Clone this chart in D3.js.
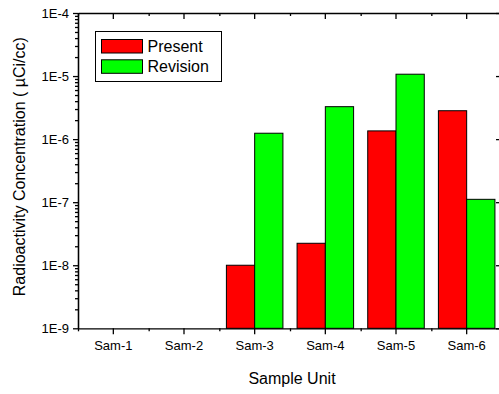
<!DOCTYPE html>
<html>
<head>
<meta charset="utf-8">
<script src="https://cdn.jsdelivr.net/npm/d3@7"></script>
<style>
  body { margin: 0; background: #fff; }
  svg { display: block; font-family: Arial, "Liberation Sans", sans-serif; }
</style>
</head>
<body>
<svg id="chart" width="499" height="394"></svg>
<script>
const categories = ["Sam-1", "Sam-2", "Sam-3", "Sam-4", "Sam-5", "Sam-6"];
const seriesNames = ["Present", "Revision"];
const present = [null, null, 1.0e-8, 2.23e-8, 1.35e-6, 2.82e-6];
const revision = [null, null, 1.24e-6, 3.27e-6, 1.07e-5, 1.11e-7];
const yTickValues = [1e-9, 1e-8, 1e-7, 1e-6, 1e-5, 1e-4];
const yTickLabels = ["1E-9", "1E-8", "1E-7", "1E-6", "1E-5", "1E-4"];
const colors = ["#ff0000", "#00ff00"];

const svg = d3.select("#chart");
const plotLeft = 78, plotRight = 502, plotTop = 13, plotBottom = 328.3;

const x = d3.scaleBand().domain(categories).range([plotLeft, plotRight])
  .paddingInner(0.2).paddingOuter(0.1);
const step = x.step();
const x1 = d3.scaleBand().domain(seriesNames).range([0, x.bandwidth()]);
const y = d3.scaleLog().domain([1e-9, 1e-4]).range([plotBottom, plotTop]);

// bars
const rows = categories.map((c, i) => ({ cat: c, vals: [present[i], revision[i]] }));
const groups = svg.append("g").selectAll("g").data(rows).join("g")
  .attr("transform", d => `translate(${x(d.cat)},0)`);
groups.selectAll("rect")
  .data(d => d.vals.map((v, k) => ({ name: seriesNames[k], v, k })).filter(d => d.v != null))
  .join("rect")
  .attr("x", d => x1(d.name))
  .attr("y", d => y(d.v))
  .attr("width", x1.bandwidth())
  .attr("height", d => plotBottom - y(d.v))
  .attr("fill", d => colors[d.k])
  .attr("stroke", "#000")
  .attr("stroke-width", 1);

// minor log ticks
const minors = [];
for (let e = -9; e < -4; e++) for (let m = 2; m <= 9; m++) minors.push(m * Math.pow(10, e));
const bounds = d3.range(categories.length + 1).map(i => plotLeft + i * step);
const xb = d3.scaleLinear().domain([plotLeft, plotRight]).range([plotLeft, plotRight]);

function styleAxis(g) {
  g.selectAll(".domain").attr("stroke", "#000").attr("stroke-width", 1.3);
  g.selectAll(".tick line").attr("stroke", "#000").attr("stroke-width", 1.3);
}
function styleText(g) {
  g.selectAll("text").attr("font-size", 13).attr("fill", "#000")
    .attr("font-family", "Arial, 'Liberation Sans', sans-serif");
}

// left axis
svg.append("g").attr("transform", `translate(${plotLeft},0)`)
  .call(d3.axisLeft(y).tickValues(minors).tickSize(3).tickSizeOuter(0).tickFormat(""))
  .call(styleAxis);
svg.append("g").attr("transform", `translate(${plotLeft},0)`)
  .call(d3.axisLeft(y).tickValues(yTickValues).tickSize(5).tickSizeOuter(0)
    .tickPadding(4).tickFormat((d, i) => yTickLabels[i]))
  .call(styleAxis)
  .call(styleText);

// right axis (ticks inward)
svg.append("g").attr("transform", `translate(${plotRight},0)`)
  .call(d3.axisLeft(y).tickValues(minors).tickSize(3).tickSizeOuter(0).tickFormat(""))
  .call(styleAxis);
svg.append("g").attr("transform", `translate(${plotRight},0)`)
  .call(d3.axisLeft(y).tickValues(yTickValues).tickSize(6).tickSizeOuter(0).tickFormat(""))
  .call(styleAxis);

// bottom axis
svg.append("g").attr("transform", `translate(0,${plotBottom})`)
  .call(d3.axisBottom(xb).tickValues(bounds).tickSize(3).tickSizeOuter(0).tickFormat(""))
  .call(styleAxis);
svg.append("g").attr("transform", `translate(0,${plotBottom})`)
  .call(d3.axisBottom(x).tickSize(6).tickSizeOuter(0).tickPadding(6))
  .call(styleAxis)
  .call(g => g.select(".domain").remove())
  .call(styleText);

// top axis (ticks inward)
svg.append("g").attr("transform", `translate(0,${plotTop})`)
  .call(d3.axisBottom(xb).tickValues(bounds).tickSize(3).tickSizeOuter(0).tickFormat(""))
  .call(styleAxis);
svg.append("g").attr("transform", `translate(0,${plotTop})`)
  .call(d3.axisBottom(x).tickSize(6).tickSizeOuter(0).tickFormat(""))
  .call(styleAxis)
  .call(g => g.select(".domain").remove());

// axis titles
svg.append("text")
  .attr("x", (plotLeft + plotRight) / 2 + 2).attr("y", 384)
  .attr("text-anchor", "middle").attr("font-size", 16).text("Sample Unit");
svg.append("text")
  .attr("transform", `translate(25,${(plotTop + plotBottom) / 2 - 4}) rotate(-90)`)
  .attr("text-anchor", "middle").attr("font-size", 16)
  .text("Radioactivity Concentration ( \u00b5Ci/cc)");

// legend
const lg = svg.append("g").attr("transform", "translate(95.5,31.5)");
lg.append("rect").attr("width", 126).attr("height", 50)
  .attr("fill", "#fff").attr("stroke", "#000").attr("stroke-width", 1);
seriesNames.forEach((name, k) => {
  lg.append("rect").attr("x", 6).attr("y", 8 + k * 20.3)
    .attr("width", 41).attr("height", 13.5)
    .attr("fill", colors[k]).attr("stroke", "#000").attr("stroke-width", 1);
  lg.append("text").attr("x", 52).attr("y", 20.3 + k * 20.5)
    .attr("font-size", 16).text(name);
});
</script>
</body>
</html>
